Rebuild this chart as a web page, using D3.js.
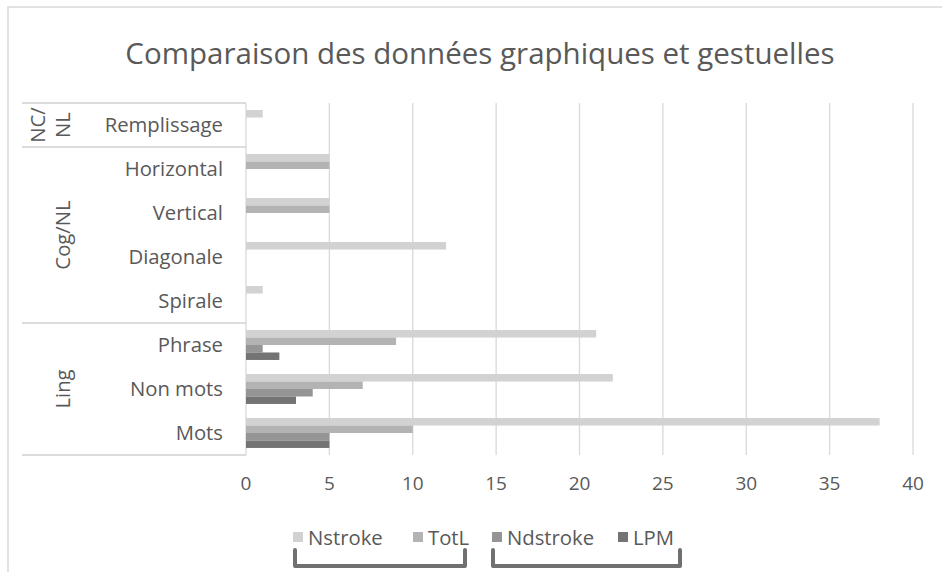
<!DOCTYPE html>
<html><head><meta charset="utf-8">
<script src="https://cdn.jsdelivr.net/npm/d3@7"></script>
<style>body{margin:0;background:#fff;} svg{display:block;}</style>
</head><body>
<script>
const categories = ["Remplissage","Horizontal","Vertical","Diagonale","Spirale","Phrase","Non mots","Mots"];
const groups = [
  {name:["NC/","NL"], cats:["Remplissage"]},
  {name:["Cog/NL"], cats:["Horizontal","Vertical","Diagonale","Spirale"]},
  {name:["Ling"], cats:["Phrase","Non mots","Mots"]}
];
const seriesNames = ["Nstroke","TotL","Ndstroke","LPM"];
const Nstroke  = [1,5,5,12,1,21,22,38];
const TotL     = [0,5,5,0,0,9,7,10];
const Ndstroke = [0,0,0,0,0,1,4,5];
const LPM      = [0,0,0,0,0,2,3,5];
const xTicks = [0,5,10,15,20,25,30,35,40];
const colors = ["#d2d2d2","#b3b3b3","#959595","#747474"];

const W=942,H=572;
const svg=d3.select("body").append("svg").attr("width",W).attr("height",H);
const font="'Open Sans', sans-serif";
const txt="#595959";
svg.append("rect").attr("x",8).attr("y",7).attr("width",W+5).attr("height",H+5).attr("fill","#fff").attr("stroke","#d9d9d9").attr("stroke-width",1.5);

svg.append("text").attr("x",480).attr("y",64).attr("text-anchor","middle")
  .attr("font-family",font).attr("font-size",29.5).attr("fill",txt)
  .text("Comparaison des données graphiques et gestuelles");

const x=d3.scaleLinear().domain([0,40]).range([246,913]);
const y=d3.scaleBand().domain(categories).range([103,455]).paddingInner(0.32).paddingOuter(0.16);
const ys=d3.scaleBand().domain(seriesNames).range([0,y.bandwidth()]);
const data=[Nstroke,TotL,Ndstroke,LPM];

// gridlines
svg.append("g").selectAll("line").data(xTicks.slice(1)).join("line")
  .attr("x1",d=>x(d)).attr("x2",d=>x(d)).attr("y1",103).attr("y2",455)
  .attr("stroke","#d9d9d9").attr("stroke-width",1.3);
// axis line
svg.append("line").attr("x1",246).attr("x2",246).attr("y1",103).attr("y2",455).attr("stroke","#d9d9d9").attr("stroke-width",1.3);

// bars
data.forEach((arr,si)=>{
  svg.append("g").selectAll("rect").data(categories).join("rect")
    .attr("x",x(0)).attr("y",(c)=>y(c)+ys(seriesNames[si]))
    .attr("width",(c,i)=>x(arr[i])-x(0)).attr("height",ys.bandwidth())
    .attr("fill",colors[si]);
});

// x tick labels
svg.append("g").selectAll("text").data(xTicks).join("text")
  .attr("x",d=>x(d)).attr("y",490).attr("text-anchor","middle")
  .attr("font-family",font).attr("font-size",19).attr("fill",txt).text(d=>d);

// category labels
svg.append("g").selectAll("text").data(categories).join("text")
  .attr("x",223).attr("y",c=>y(c)+y.bandwidth()/2+7).attr("text-anchor","end")
  .attr("font-family",font).attr("font-size",20.3).attr("fill",txt).text(c=>c);

// group separators
const step=y.step();
let bounds=[103];
let acc=0;
groups.forEach(g=>{acc+=g.cats.length; bounds.push(103+acc*step);});
svg.append("g").selectAll("line").data(bounds).join("line")
  .attr("x1",22).attr("x2",246).attr("y1",d=>d).attr("y2",d=>d)
  .attr("stroke","#d0d0d0").attr("stroke-width",1.5);

// group labels
groups.forEach((g,gi)=>{
  const cy=(bounds[gi]+bounds[gi+1])/2;
  g.name.forEach((ln,li)=>{
    const cx = g.name.length===1 ? 63 : (li===0?38:63);
    svg.append("text").attr("transform",`translate(${cx+7},${cy}) rotate(-90)`)
      .attr("text-anchor","middle").attr("font-family",font).attr("font-size",20.3).attr("fill",txt).text(ln);
  });
});

// legend
const legX=[293,413,492,618];
const lg=svg.append("g");
seriesNames.forEach((s,i)=>{
  lg.append("rect").attr("x",legX[i]).attr("y",532).attr("width",10).attr("height",10).attr("fill",colors[i]);
  lg.append("text").attr("x",legX[i]+15).attr("y",544.5).attr("font-family",font).attr("font-size",20.3).attr("fill",txt).text(s);
});
// brackets
[[295,465],[493,680]].forEach(([a,b])=>{
  svg.append("path").attr("d",`M${a},550 V566 H${b} V550`).attr("fill","none")
    .attr("stroke","#707070").attr("stroke-width",4).attr("stroke-linejoin","round").attr("stroke-linecap","round");
});
</script>
</body></html>
